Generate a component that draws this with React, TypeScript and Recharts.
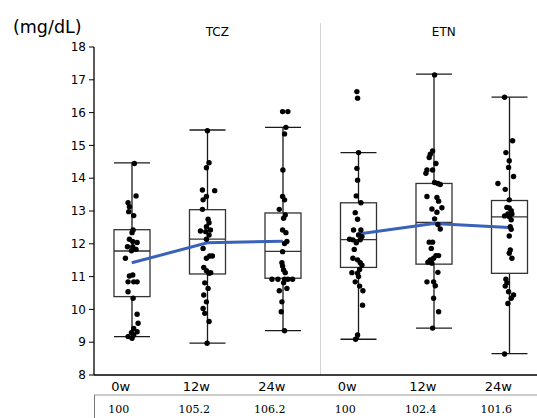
import React from 'react';
import { ComposedChart, Bar, Line, Scatter, XAxis, YAxis, ReferenceLine } from 'recharts';

const groups = ['TCZ', 'ETN'];
const weeks = ['0w', '12w', '24w', '0w', '12w', '24w'];
const ratios = ['100', '105.2', '106.2', '100', '102.4', '101.6'];
const yTicks = [8, 9, 10, 11, 12, 13, 14, 15, 16, 17, 18];

// box stats per column (TCZ 0/12/24w, ETN 0/12/24w)
const whiskerLow = [9.17, 8.97, 9.35, 9.09, 9.43, 8.65];
const whiskerHigh = [14.47, 15.47, 15.55, 14.78, 17.17, 16.47];
const q1 = [10.39, 11.08, 10.95, 11.28, 11.38, 11.1];
const median = [11.78, 12.14, 11.77, 12.13, 12.65, 12.82];
const q3 = [12.43, 13.04, 12.94, 13.25, 13.84, 13.32];
const mean = [11.42, 12.03, 12.08, 12.3, 12.62, 12.5];

// individual patients: [jitter, value]
const tcz0w = [
  [0.035, 14.45], [0.057, 13.46], [-0.049, 13.25], [-0.031, 13.13], [-0.04, 12.98], [0.026, 12.86],
  [0.018, 12.42], [0.004, 12.34], [-0.031, 12.14], [0.013, 12.07], [0.071, 12.04], [-0.057, 11.91],
  [0.013, 11.91], [0.057, 11.83], [-0.004, 11.79], [-0.084, 11.56], [0.013, 11.05], [-0.031, 11.02],
  [-0.049, 10.84], [0.026, 10.84], [0.071, 10.84], [-0.049, 10.54], [0.018, 10.34], [0.071, 9.85],
  [0.084, 9.58], [0.026, 9.42], [-0.004, 9.29], [0.071, 9.32], [-0.049, 9.17], [0.004, 9.12], [0.026, 9.22],
];
const tcz12w = [
  [0.002, 15.45], [0.024, 14.47], [-0.011, 14.32], [-0.064, 13.64], [0.099, 13.62], [-0.055, 13.34],
  [-0.011, 13.44], [-0.064, 13.05], [0.011, 12.75], [0.024, 12.64], [-0.011, 12.52], [-0.09, 12.39],
  [-0.02, 12.37], [0.042, 12.42], [0.024, 12.27], [-0.011, 12.14], [-0.055, 11.86], [0.033, 11.63],
  [0.068, 11.63], [-0.011, 11.56], [-0.046, 11.28], [-0.011, 11.18], [0.024, 11.1], [0.046, 11.12],
  [-0.033, 10.81], [0.011, 10.64], [-0.046, 10.44], [-0.011, 10.23], [-0.055, 10.03], [-0.033, 9.88],
  [0.024, 9.63], [-0.002, 8.97],
];
const tcz24w = [
  [-0.002, 16.03], [0.068, 16.03], [0.042, 15.55], [0.024, 15.35], [0.002, 14.25], [-0.002, 13.44],
  [0.024, 13.34], [-0.046, 13.05], [0.033, 12.88], [0.011, 12.78], [-0.002, 12.42], [0.042, 12.34],
  [0.055, 12.07], [0.024, 12.01], [-0.002, 11.76], [-0.011, 11.42], [-0.002, 11.32], [0.011, 11.2],
  [0.033, 11.12], [-0.143, 10.92], [-0.064, 10.92], [0.024, 10.92], [0.068, 10.92], [0.13, 10.92],
  [0.011, 10.81], [-0.046, 10.57], [0.055, 10.64], [-0.011, 10.23], [-0.02, 9.93], [0.024, 9.35],
];
const etn0w = [
  [-0.018, 16.64], [-0.009, 16.44], [0.004, 14.78], [-0.018, 14.3], [-0.009, 13.94], [-0.026, 13.46],
  [0.035, 13.25], [-0.04, 12.95], [-0.009, 12.75], [-0.062, 12.42], [0.035, 12.42], [0.004, 12.27],
  [-0.115, 12.14], [-0.071, 12.12], [0.049, 12.22], [0.026, 12.12], [-0.026, 12.03], [-0.053, 11.83],
  [-0.071, 11.56], [-0.009, 11.51], [0.026, 11.42], [0.049, 11.35], [0.018, 11.22], [-0.084, 11.12],
  [-0.009, 11.1], [0.004, 11.0], [-0.04, 10.84], [0.018, 10.71], [0.062, 10.57], [0.057, 10.13],
  [-0.009, 9.22], [-0.035, 9.09],
];
const etn12w = [
  [0.011, 17.15], [-0.015, 14.83], [-0.046, 14.73], [-0.06, 14.63], [0.029, 14.45], [-0.09, 14.25],
  [-0.104, 14.15], [-0.015, 14.25], [0.011, 13.87], [0.055, 13.84], [0.086, 13.81], [-0.09, 13.44],
  [0.042, 13.41], [0.064, 13.3], [-0.024, 13.06], [0.108, 13.1], [0.042, 12.96], [0.011, 12.76],
  [0.055, 12.59], [0.086, 12.45], [-0.06, 12.05], [-0.015, 12.05], [-0.033, 11.86], [0.029, 11.64],
  [0.064, 11.64], [-0.046, 11.51], [-0.002, 11.56], [-0.077, 11.44], [-0.024, 11.41], [0.055, 11.13],
  [-0.09, 10.84], [-0.002, 10.84], [0.02, 10.72], [-0.002, 10.34], [0.064, 9.93], [-0.015, 9.43],
];
const etn24w = [
  [-0.062, 16.47], [0.044, 15.14], [-0.044, 14.78], [0, 14.53], [-0.009, 14.33], [0.057, 14.05],
  [-0.15, 13.84], [-0.053, 13.66], [0, 13.34], [-0.031, 13.11], [0, 13.09], [0.026, 13.01],
  [-0.018, 12.91], [0.035, 12.91], [0, 12.83], [-0.062, 12.85], [0.026, 12.73], [0.013, 12.52],
  [0.026, 12.44], [0, 12.24], [0.013, 11.81], [0, 11.71], [0.035, 11.56], [-0.044, 10.92],
  [-0.031, 10.81], [-0.053, 10.71], [-0.009, 10.54], [0.057, 10.44], [0.026, 10.34], [-0.018, 10.18],
  [-0.062, 8.64],
];

const pointSets = [tcz0w, tcz12w, tcz24w, etn0w, etn12w, etn24w];

const data = weeks.map((w, i) => ({
  id: i,
  week: w,
  whisker: [whiskerLow[i], whiskerHigh[i]],
  box: [q1[i], q3[i]],
  q1: q1[i],
  q3: q3[i],
  median: median[i],
  tczMean: i < 3 ? mean[i] : null,
  etnMean: i >= 3 ? mean[i] : null,
}));

const points = pointSets.flatMap((set, i) => set.map(([j, v]) => ({ x: i + j, y: v })));

const WhiskerShape = (props: any) => {
  const { x, y, width, height } = props;
  const cx = x + width / 2;
  return (
    <g stroke="#1a1a1a" strokeWidth={1.3}>
      <line x1={cx} x2={cx} y1={y} y2={y + height} />
      <line x1={x} x2={x + width} y1={y} y2={y} />
      <line x1={x} x2={x + width} y1={y + height} y2={y + height} />
    </g>
  );
};

const BoxShape = (props: any) => {
  const { x, y, width, height, payload } = props;
  const medY = y + (height * (payload.q3 - payload.median)) / (payload.q3 - payload.q1);
  return (
    <g>
      <rect x={x} y={y} width={width} height={height} fill="#fff" stroke="#333" strokeWidth={1.3} />
      <line x1={x} x2={x + width} y1={medY} y2={medY} stroke="#333" strokeWidth={1.3} />
    </g>
  );
};

const Dot = (props: any) => <circle cx={props.cx} cy={props.cy} r={2.7} fill="#000" />;

export default function App() {
  return (
    <div style={{ position: 'fixed', left: 0, top: 0, width: 537, height: 418, overflow: 'hidden', background: '#fff', fontFamily: 'DejaVu Sans' }}>
      <span style={{ position: 'absolute', left: 13, top: 17, fontSize: 17.5, lineHeight: '20px', color: '#000' }}>(mg/dL)</span>
      <div style={{ position: 'absolute', left: 94, top: 395, height: 23, borderLeft: '1px solid #777' }} />
      <ComposedChart
        width={550}
        height={418}
        data={data}
        barGap={-36}
        margin={{ top: 17, right: 3, left: 0, bottom: 0 }}
      >
        <XAxis
          xAxisId="num"
          type="number"
          dataKey="x"
          orientation="top"
          domain={[-0.5, 5.5]}
          allowDataOverflow
          ticks={[1, 4]}
          tickFormatter={(v: number) => groups[Math.floor(v / 3)]}
          axisLine={false}
          tickLine={false}
          tickSize={0}
          tickMargin={11}
          height={30}
          tick={{ fontSize: 12, fill: '#000', dx: 10 }}
        />
        <XAxis
          xAxisId="cat"
          dataKey="id"
          tickFormatter={(i: number) => weeks[i]}
          interval={0}
          axisLine={{ stroke: '#000', strokeWidth: 1.3 }}
          tickLine={false}
          tickSize={0}
          tickMargin={7}
          height={20}
          tick={{ fontSize: 13, fill: '#000', dx: -11 }}
        />
        <XAxis
          xAxisId="tbl"
          dataKey="id"
          tickFormatter={(i: number) => ratios[i]}
          interval={0}
          axisLine={{ stroke: '#999' }}
          tickLine={false}
          tickSize={0}
          tickMargin={10}
          height={23}
          tick={{ fontSize: 11, fill: '#000', fontFamily: 'DejaVu Serif', dx: -13 }}
        />
        <YAxis
          domain={[8, 18]}
          ticks={yTicks}
          interval={0}
          allowDataOverflow
          width={94}
          tickSize={5}
          tickMargin={3}
          axisLine={{ stroke: '#000', strokeWidth: 1.3 }}
          tickLine={{ stroke: '#000' }}
          tick={{ fontSize: 12, fill: '#000' }}
        />
        <ReferenceLine
          xAxisId="num"
          segment={[{ x: 2.5, y: 8 }, { x: 2.5, y: 18.73 }]}
          stroke="#d4d4d4"
          ifOverflow="visible"
        />
        <Bar xAxisId="cat" dataKey="whisker" barSize={36} shape={<WhiskerShape />} isAnimationActive={false} />
        <Bar xAxisId="cat" dataKey="box" barSize={36} shape={<BoxShape />} isAnimationActive={false} />
        <Scatter xAxisId="num" data={points} dataKey="y" shape={<Dot />} isAnimationActive={false} />
        <Line xAxisId="cat" dataKey="tczMean" stroke="#3a62b8" strokeWidth={3} dot={false} isAnimationActive={false} />
        <Line xAxisId="cat" dataKey="etnMean" stroke="#3a62b8" strokeWidth={3} dot={false} isAnimationActive={false} />
      </ComposedChart>
    </div>
  );
}
